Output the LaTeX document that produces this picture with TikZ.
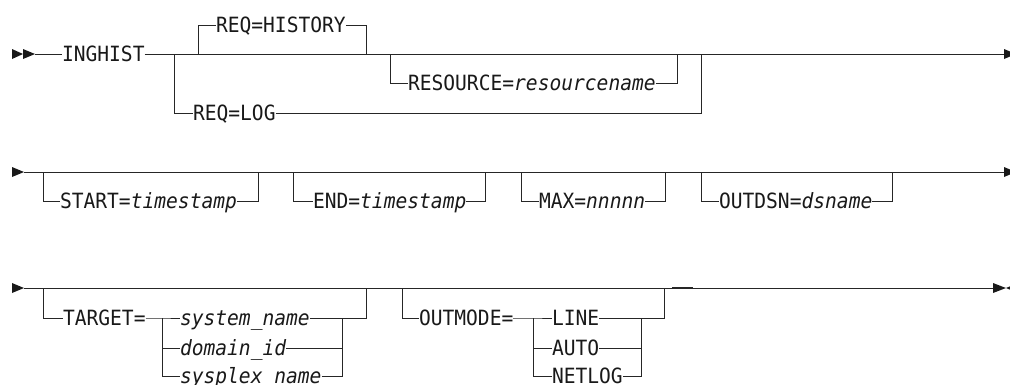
\documentclass[tikz,border=0pt]{standalone}
\usepackage{fontspec}
\setmonofont{DejaVu Sans Mono}[ItalicFont={DejaVu Sans Mono Oblique},FakeStretch=0.933]
\begin{document}
\begin{tikzpicture}[x=1pt,y=-1pt,
  rail/.style={draw=black!85,line width=1pt,line join=miter},
  tip/.style={fill=black!90},
  kw/.style={anchor=base west,inner sep=0pt,outer sep=0pt,text=black!90,
    font=\ttfamily\fontsize{21}{24}\selectfont}]
\useasboundingbox (0,0) rectangle (1010,384);
\clip (0,0) rectangle (1010,384);

% ---------------- Row 1 ----------------
\fill[tip] (12,49) -- (12,59) -- (23,54) -- cycle;
\fill[tip] (23,49) -- (23,59) -- (35,54) -- cycle;
\node[kw] (ing) at (62,61) {INGHIST};
\node[kw] (reqh) at (216,32) {REQ=HISTORY};
\node[kw] (res) at (408,90) {RESOURCE=\textit{resourcename}};
\node[kw] (reql) at (193,120) {REQ=LOG};
\coordinate (r1s) at (35,54);
\coordinate (r1e) at (1004,54);
\draw[rail] (r1s) -- (ing.west |- r1s);
\draw[rail] (ing.east |- r1s) -- (r1e);
\fill[tip] (1004,49) -- (1004,59) -- (1016,54) -- cycle;
% REQ=LOG branch
\draw[rail] (174,54) -- (174,113) -- (reql.west |- 0,113);
\draw[rail] (reql.east |- 0,113) -- (701,113) -- (701,54);
% REQ=HISTORY
\draw[rail] (198,54) -- (198,25) -- (reqh.west |- 0,25);
\draw[rail] (reqh.east |- 0,25) -- (366,25) -- (366,54);
% RESOURCE
\draw[rail] (390,54) -- (390,83) -- (res.west |- 0,83);
\draw[rail] (res.east |- 0,83) -- (677,83) -- (677,54);

% ---------------- Row 2 ----------------
\fill[tip] (12,167) -- (12,177) -- (24,172) -- cycle;
\coordinate (r2s) at (24,172);
\coordinate (r2e) at (1004,172);
\draw[rail] (r2s) -- (r2e);
\fill[tip] (1004,167) -- (1004,177) -- (1016,172) -- cycle;
\node[kw] (start) at (60,208) {START=\textit{timestamp}};
\node[kw] (end) at (313,208) {END=\textit{timestamp}};
\node[kw] (max) at (539,208) {MAX=\textit{nnnnn}};
\node[kw] (outdsn) at (719,208) {OUTDSN=\textit{dsname}};
\draw[rail] (43,172) -- (43,201) -- (start.west |- 0,201);
\draw[rail] (start.east |- 0,201) -- (258,201) -- (258,172);
\draw[rail] (293,172) -- (293,201) -- (end.west |- 0,201);
\draw[rail] (end.east |- 0,201) -- (485,201) -- (485,172);
\draw[rail] (521,172) -- (521,201) -- (max.west |- 0,201);
\draw[rail] (max.east |- 0,201) -- (665,201) -- (665,172);
\draw[rail] (701,172) -- (701,201) -- (outdsn.west |- 0,201);
\draw[rail] (outdsn.east |- 0,201) -- (892,201) -- (892,172);

% ---------------- Row 3 ----------------
\fill[tip] (12,283) -- (12,293) -- (24,288) -- cycle;
\coordinate (r3s) at (24,288);
\coordinate (r3e) at (993,288);
\draw[rail] (r3s) -- (r3e);
\fill[tip] (993,283) -- (993,293) -- (1006,288) -- cycle;
\fill[tip] (1006,288) -- (1018,283) -- (1018,293) -- cycle;
\draw[draw=black!85,line width=1.8pt] (672,287.6) -- (693,287.6);
% TARGET
\node[kw] (target) at (63,325) {TARGET=};
\node[kw] (sysn) at (180,325) {\textit{system\_name}};
\node[kw] (dom) at (180,355) {\textit{domain\_id}};
\node[kw] (plex) at (180,383) {\textit{sysplex\_name}};
\draw[rail] (43,288) -- (43,318) -- (target.west |- 0,318);
\draw[rail] (target.east |- 0,318) -- (162,318) -- (sysn.west |- 0,318);
\draw[rail] (162,318) -- (162,376) -- (plex.west |- 0,376);
\draw[rail] (162,348) -- (dom.west |- 0,348);
\draw[rail] (sysn.east |- 0,318) -- (366,318) -- (366,288);
\draw[rail] (dom.east |- 0,348) -- (342,348);
\draw[rail] (plex.east |- 0,376) -- (342,376) -- (342,318);
% OUTMODE
\node[kw] (outm) at (419,325) {OUTMODE=};
\node[kw] (line) at (552,325) {LINE};
\node[kw] (auto) at (552,355) {AUTO};
\node[kw] (netlog) at (552,383) {NETLOG};
\draw[rail] (402,288) -- (402,318) -- (outm.west |- 0,318);
\draw[rail] (outm.east |- 0,318) -- (533,318) -- (line.west |- 0,318);
\draw[rail] (533,318) -- (533,376) -- (netlog.west |- 0,376);
\draw[rail] (533,348) -- (auto.west |- 0,348);
\draw[rail] (line.east |- 0,318) -- (664,318) -- (664,288);
\draw[rail] (auto.east |- 0,348) -- (641,348);
\draw[rail] (netlog.east |- 0,376) -- (641,376) -- (641,318);
\end{tikzpicture}
\end{document}
